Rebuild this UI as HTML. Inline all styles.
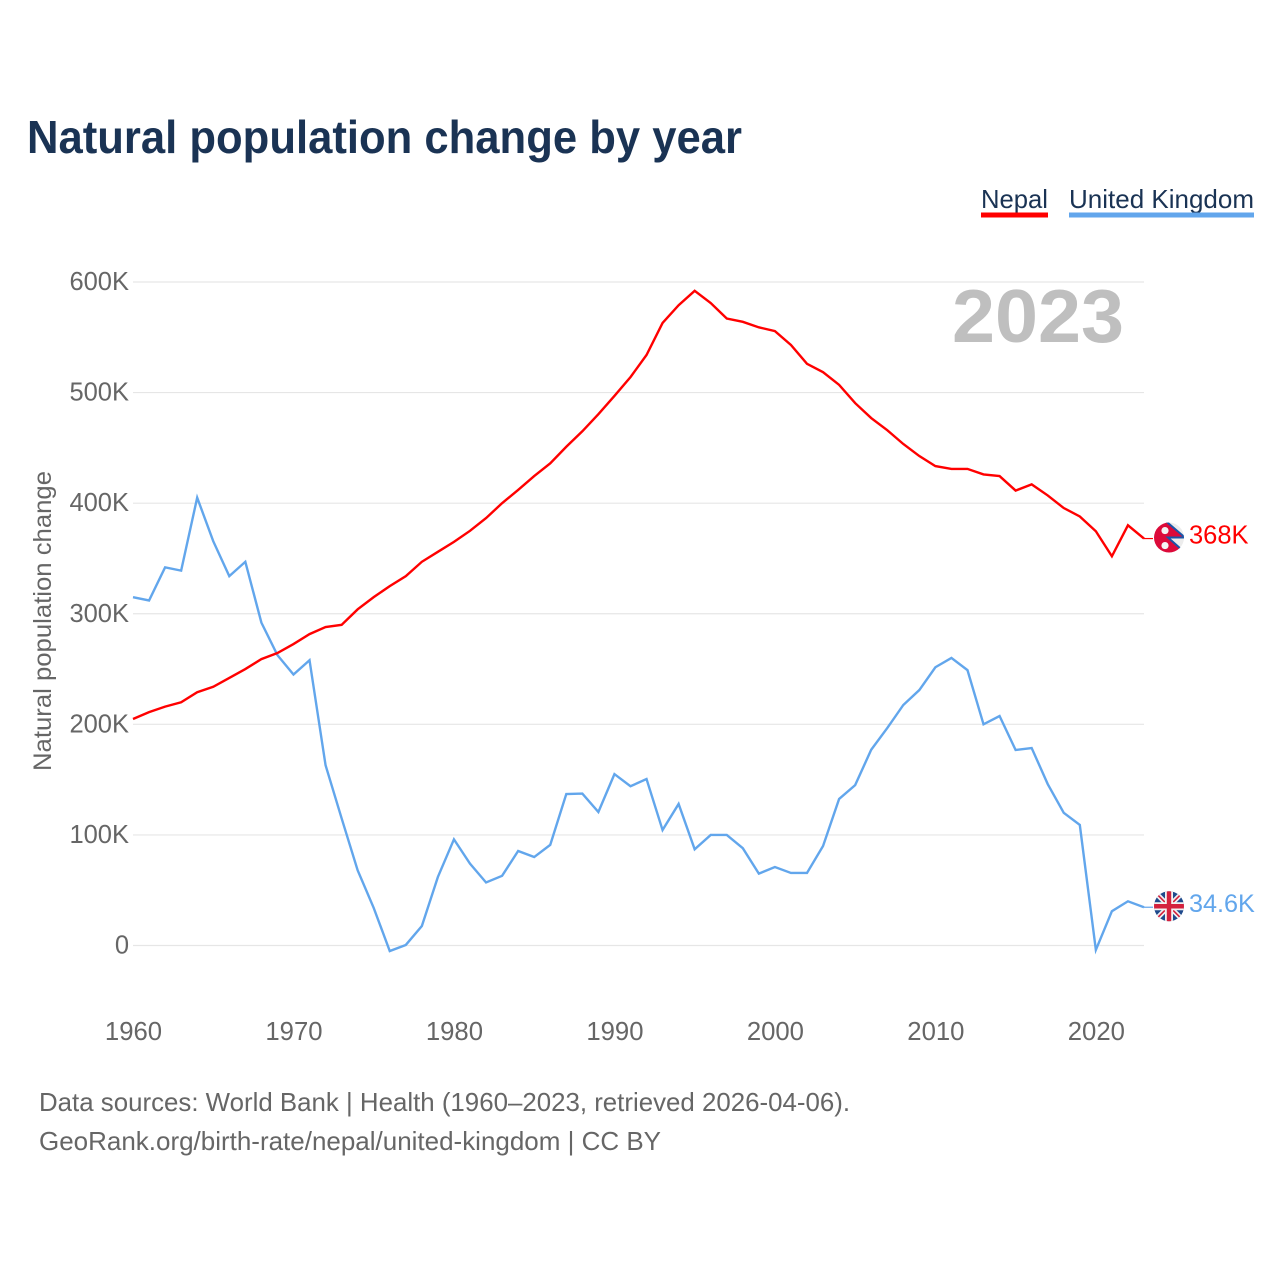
<!DOCTYPE html>
<html lang="en">
<head>
<meta charset="utf-8">
<title>Natural population change by year</title>
<style>
  html, body { margin: 0; padding: 0; background: #fff; }
  svg { display: block; font-family: "Liberation Sans", "DejaVu Sans", sans-serif; }
</style>
</head>
<body>
<svg id="chart" width="1280" height="1280" viewBox="0 0 1280 1280" xmlns="http://www.w3.org/2000/svg">
  <rect width="1280" height="1280" fill="#ffffff"/>
  <text x="27" y="153" font-size="46" font-weight="700" fill="#1a3354" textLength="715" lengthAdjust="spacingAndGlyphs">Natural population change by year</text>

  <g>
    <g>
      <text x="981" y="208" font-size="26" fill="#1a3354" textLength="67" lengthAdjust="spacingAndGlyphs">Nepal</text>
      <rect x="981" y="212.5" width="67" height="5" fill="#ff0000"/>
    </g>
    <g>
      <text x="1069" y="208" font-size="26" fill="#1a3354" textLength="185" lengthAdjust="spacingAndGlyphs">United Kingdom</text>
      <rect x="1069" y="212.5" width="185" height="5" fill="#62a6ec"/>
    </g>
  </g>

  <g id="grid"></g>
  <g id="yticks"></g>
  <g id="xticks"></g>
  <text transform="translate(51 621) rotate(-90)" text-anchor="middle" font-size="25" fill="#666666" textLength="300" lengthAdjust="spacingAndGlyphs">Natural population change</text>
  <text x="952" y="342" font-size="75" font-weight="700" fill="#bfbfbf" textLength="172" lengthAdjust="spacingAndGlyphs">2023</text>
  <g id="series"></g>

  <defs>
    <clipPath id="clip-np"><circle cx="0" cy="0" r="15"/></clipPath>
    <clipPath id="clip-uk"><circle cx="0" cy="0" r="15"/></clipPath>
  </defs>

  <g id="flag-nepal">
    <g clip-path="url(#clip-np)">
      <rect x="-16" y="-16" width="32" height="32" fill="#ececec"/>
      <polygon points="-16,-18 -5,-18 16,0 -1,0 16,15 -16,18" fill="#dc0a3a"/>
      <polyline points="-5,-18 16,0 -1,0 16,15" fill="none" stroke="#1a55a8" stroke-width="2"/>
      <circle cx="-4" cy="-7" r="3.6" fill="#f4f4f4"/>
      <circle cx="-4" cy="8" r="3.6" fill="#f4f4f4"/>
    </g>
  </g>
  <g id="flag-uk">
    <g clip-path="url(#clip-uk)">
      <rect x="-16" y="-16" width="32" height="32" fill="#1f4a8c"/>
      <path d="M-16,-16 L16,16 M16,-16 L-16,16" stroke="#f2f2f2" stroke-width="5"/>
      <path d="M-16,-16 L16,16 M16,-16 L-16,16" stroke="#d4213d" stroke-width="1.6"/>
      <path d="M0,-16 V16 M-16,0 H16" stroke="#f2f2f2" stroke-width="8"/>
      <path d="M0,-16 V16 M-16,0 H16" stroke="#d4213d" stroke-width="4.4"/>
    </g>
  </g>
  <g id="end-labels"></g>

  <text x="39" y="1111" font-size="26" fill="#666666" textLength="811" lengthAdjust="spacingAndGlyphs">Data sources: World Bank | Health (1960–2023, retrieved 2026-04-06).</text>
  <text x="39" y="1150" font-size="26" fill="#666666" textLength="622" lengthAdjust="spacingAndGlyphs">GeoRank.org/birth-rate/nepal/united-kingdom | CC BY</text>
</svg>
<script>
const years = [1960,1961,1962,1963,1964,1965,1966,1967,1968,1969,1970,1971,1972,1973,1974,1975,1976,1977,1978,1979,1980,1981,1982,1983,1984,1985,1986,1987,1988,1989,1990,1991,1992,1993,1994,1995,1996,1997,1998,1999,2000,2001,2002,2003,2004,2005,2006,2007,2008,2009,2010,2011,2012,2013,2014,2015,2016,2017,2018,2019,2020,2021,2022,2023];
const nepalValues = [204.8,211,216,220,229,234,242,250,259,264.5,272.6,281.6,288,290,304,315,325,334,347,356,365,375,386.5,400,412,424.5,436,451,465,480.5,497,514,534,563,579,592,581,567,564,559,555.6,543,526,518.5,507,490.5,477,466,453.5,442.6,433.5,431,431,426,424.5,411.4,417,407,395.6,388,374.6,352,380,368];
const ukValues = [315,312,342,339,405,365.6,334,347,292,262.6,245,258,163,115,68,34,-5,0.5,17.6,62,96,74,57,63,85.5,80,91,137,137.4,120.7,155,144,150.5,104.4,128,87,100,100,88,65,71,65.6,65.6,90,132.5,145,177,196.6,217.5,231,251.6,260,249,200,207.5,176.8,178.6,146,120,109,-4,31,40,34.6];
const yTickValues = [0,100,200,300,400,500,600];
const yTickLabels = ["0","100K","200K","300K","400K","500K","600K"];
const xTickValues = [1960,1970,1980,1990,2000,2010,2020];
const xTickLabels = ["1960","1970","1980","1990","2000","2010","2020"];
const nepalEndLabel = "368K";
const ukEndLabel = "34.6K";

const NS = "http://www.w3.org/2000/svg";
const xScale = function (year) { return 133 + (year - 1960) * (1144 - 133) / 63; };
const yScale = function (value) { return 945.5 - value * (945.5 - 282) / 600; };
const make = function (tag, parent) {
  const el = document.createElementNS(NS, tag);
  parent.appendChild(el);
  return el;
};

const gridGroup = document.getElementById("grid");
const yGroup = document.getElementById("yticks");
yTickValues.forEach(function (v, i) {
  const line = make("line", gridGroup);
  line.setAttribute("x1", 133);
  line.setAttribute("x2", 1144);
  line.setAttribute("y1", yScale(v));
  line.setAttribute("y2", yScale(v));
  line.setAttribute("stroke", "#e6e6e6");
  line.setAttribute("stroke-width", "1.2");
  
  
  const label = make("text", yGroup);
  label.setAttribute("x", 129);
  label.setAttribute("y", yScale(v) + 8);
  label.setAttribute("text-anchor", "end");
  label.setAttribute("font-size", "25.5");
  label.setAttribute("fill", "#666666");
  label.textContent = yTickLabels[i];
  
  
});

const xGroup = document.getElementById("xticks");
xTickValues.forEach(function (v, i) {
  const label = make("text", xGroup);
  label.setAttribute("x", xScale(v) + 0.5);
  label.setAttribute("y", 1040);
  label.setAttribute("text-anchor", "middle");
  label.setAttribute("font-size", "25.7");
  label.setAttribute("fill", "#666666");
  label.textContent = xTickLabels[i];
  
  
});

const seriesGroup = document.getElementById("series");
const pointsFor = function (values) {
  return values.map(function (v, i) {
    return xScale(years[i]).toFixed(2) + "," + yScale(v).toFixed(2);
  }).join(" ");
};

const ukLine = make("polyline", seriesGroup);
ukLine.setAttribute("points", pointsFor(ukValues));
ukLine.setAttribute("fill", "none");
ukLine.setAttribute("stroke", "#62a6ec");
ukLine.setAttribute("stroke-width", "2.4");



const nepalLine = make("polyline", seriesGroup);
nepalLine.setAttribute("points", pointsFor(nepalValues));
nepalLine.setAttribute("fill", "none");
nepalLine.setAttribute("stroke", "#ff0000");
nepalLine.setAttribute("stroke-width", "2.4");



const lastYear = years[years.length - 1];
const nepalEndY = yScale(nepalValues[nepalValues.length - 1]);
const ukEndY = yScale(ukValues[ukValues.length - 1]);

document.getElementById("flag-nepal").setAttribute("transform", "translate(1169 " + (nepalEndY - 1) + ")");
document.getElementById("flag-uk").setAttribute("transform", "translate(1169 " + (ukEndY - 1) + ")");

const endGroup = document.getElementById("end-labels");

const nepalConnector = make("line", endGroup);
nepalConnector.setAttribute("x1", xScale(lastYear));
nepalConnector.setAttribute("x2", 1153);
nepalConnector.setAttribute("y1", nepalEndY);
nepalConnector.setAttribute("y2", nepalEndY);
nepalConnector.setAttribute("stroke", "#ff0000");
nepalConnector.setAttribute("stroke-width", "1.2");



const ukConnector = make("line", endGroup);
ukConnector.setAttribute("x1", xScale(lastYear));
ukConnector.setAttribute("x2", 1153);
ukConnector.setAttribute("y1", ukEndY);
ukConnector.setAttribute("y2", ukEndY);
ukConnector.setAttribute("stroke", "#62a6ec");
ukConnector.setAttribute("stroke-width", "1.2");



const nepalLabel = make("text", endGroup);
nepalLabel.setAttribute("x", 1189);
nepalLabel.setAttribute("y", nepalEndY + 5);
nepalLabel.setAttribute("font-size", "25.5");
nepalLabel.setAttribute("fill", "#ff0000");
nepalLabel.textContent = nepalEndLabel;



const ukLabel = make("text", endGroup);
ukLabel.setAttribute("x", 1189);
ukLabel.setAttribute("y", ukEndY + 5);
ukLabel.setAttribute("font-size", "25.2");
ukLabel.setAttribute("fill", "#62a6ec");
ukLabel.textContent = ukEndLabel;


</script>
</body>
</html>
